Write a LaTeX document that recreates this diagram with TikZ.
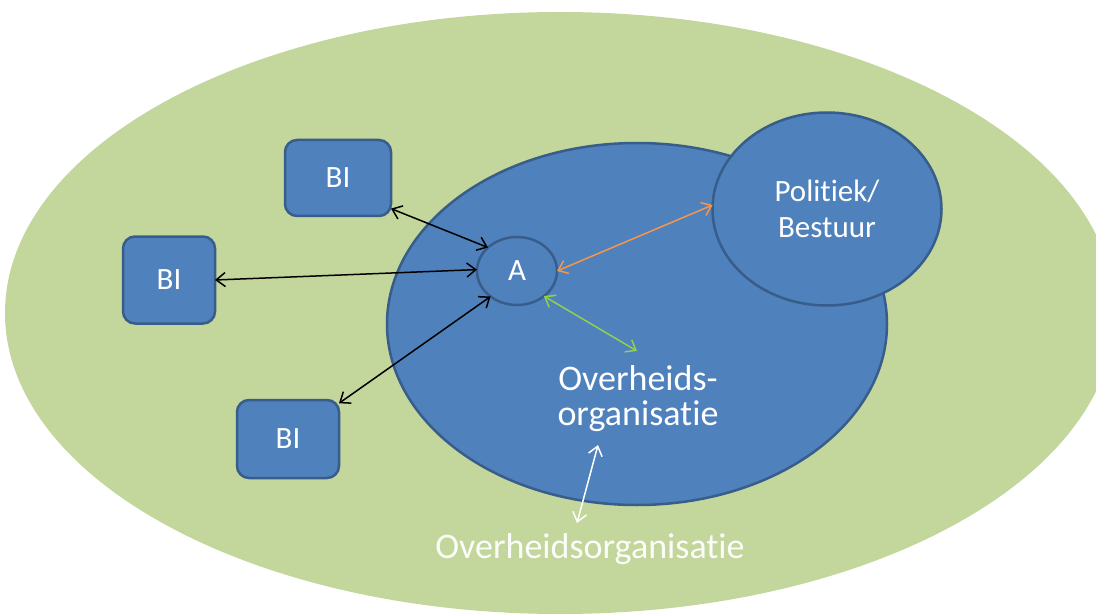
\documentclass[tikz,border=0pt]{standalone}
\usepackage{fontspec}
\setmainfont{Carlito}[Ligatures=NoCommon]
\usetikzlibrary{shapes.geometric, arrows.meta, positioning}

\definecolor{fieldgreen}{HTML}{C3D69B}
\definecolor{orgblue}{HTML}{4F81BD}
\definecolor{orgedge}{HTML}{385D8A}
\definecolor{linkorange}{HTML}{F79646}
\definecolor{linkgreen}{HTML}{92D050}

\begin{document}
\begin{tikzpicture}[
    x=1pt, y=-1pt,
    font=\fontsize{31}{36}\selectfont,
    field/.style={ellipse, fill=fieldgreen, inner sep=0pt, outer sep=0pt},
    org/.style={ellipse, draw=orgedge, fill=orgblue, line width=2.5pt, inner sep=0pt, outer sep=0pt, text=white, align=center},
    bibox/.style={rectangle, rounded corners=12pt, draw=orgedge, fill=orgblue, line width=2.5pt, inner sep=0pt, outer sep=0pt, text=white},
    label/.style={text=white, align=center, inner sep=0pt, font=\fontsize{36}{35}\selectfont},
    link/.style={{Straight Barb[length=9pt,width=14pt]}-{Straight Barb[length=9pt,width=14pt]}, line width=1.5pt}
]
\useasboundingbox (0,0) rectangle (1096,615);

% Surrounding field
\node[field, minimum width=1110pt, minimum height=602pt] (field) at (560,313) {};

% Government organisation and politics
\node[org, minimum width=500pt, minimum height=362pt] (overheid) at (637,324) {};
\node[org, minimum width=229pt, minimum height=193pt] (politiek) at (827,209) {Politiek/\\Bestuur};
\node[org, minimum width=80pt, minimum height=68pt] (a) at (517,271) {A};
\node[label] (orgtext) at (638,399) {Overheids-\\organisatie};

% BI boxes
\node[bibox, minimum width=106pt, minimum height=76pt] (bi1) at (338,178) {BI};
\node[bibox, minimum width=92pt, minimum height=87pt] (bi2) at (169,280) {BI};
\node[bibox, minimum width=102pt, minimum height=78pt] (bi3) at (288,439) {BI};

% Outer label
\node[label, text=white!95!fieldgreen] (fieldtext) at (590,549) {Overheidsorganisatie};

% Free ends
\coordinate (greenend) at (637,351);
\coordinate (whitetop) at (598,445);
\coordinate (whitebot) at (577,523);

% Links
\draw[link] (bi1.-30) -- (a.141);
\draw[link] (bi2.east) -- (a.178);
\draw[link] (bi3.35) -- (a.224);
\draw[link, draw=linkorange] (a.east) -- (politiek.178);
\draw[link, draw=linkgreen] (a.-43) -- (greenend);
\draw[link, draw=white] (whitetop) -- (whitebot);

\end{tikzpicture}
\end{document}
